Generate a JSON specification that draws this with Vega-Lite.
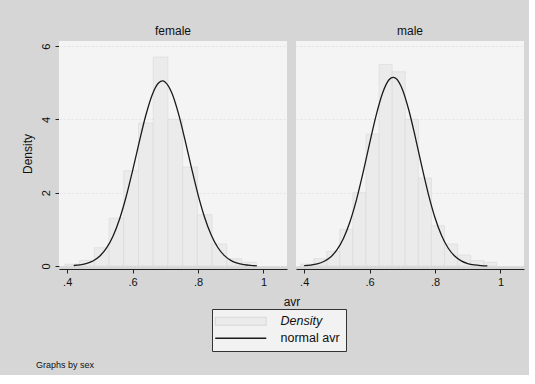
{
  "$schema": "https://vega.github.io/schema/vega-lite/v6.json",
  "background": "#d6d6d6",
  "padding": {"left": 21, "top": 25, "right": 5, "bottom": 5},
  "autosize": {"type": "pad"},
  "title": {
    "text": "Graphs by sex",
    "orient": "bottom",
    "anchor": "start",
    "frame": "bounds",
    "offset": 9,
    "dx": 15,
    "fontSize": 9,
    "fontWeight": "normal",
    "font": "Liberation Sans",
    "color": "#111"
  },
  "data": {
    "values": [
      {"sex": "female", "series": "Density", "lo": 0.393, "hi": 0.438, "dens": 0.05},
      {"sex": "female", "series": "Density", "lo": 0.438, "hi": 0.483, "dens": 0.15},
      {"sex": "female", "series": "Density", "lo": 0.483, "hi": 0.528, "dens": 0.5},
      {"sex": "female", "series": "Density", "lo": 0.528, "hi": 0.573, "dens": 1.3},
      {"sex": "female", "series": "Density", "lo": 0.573, "hi": 0.618, "dens": 2.6},
      {"sex": "female", "series": "Density", "lo": 0.618, "hi": 0.663, "dens": 3.9},
      {"sex": "female", "series": "Density", "lo": 0.663, "hi": 0.708, "dens": 5.7},
      {"sex": "female", "series": "Density", "lo": 0.708, "hi": 0.753, "dens": 4.0},
      {"sex": "female", "series": "Density", "lo": 0.753, "hi": 0.798, "dens": 2.7},
      {"sex": "female", "series": "Density", "lo": 0.798, "hi": 0.843, "dens": 1.4},
      {"sex": "female", "series": "Density", "lo": 0.843, "hi": 0.888, "dens": 0.6},
      {"sex": "female", "series": "Density", "lo": 0.888, "hi": 0.933, "dens": 0.2},
      {"sex": "female", "series": "Density", "lo": 0.933, "hi": 0.978, "dens": 0.1},
      {"sex": "male", "series": "Density", "lo": 0.389, "hi": 0.429, "dens": 0.05},
      {"sex": "male", "series": "Density", "lo": 0.429, "hi": 0.469, "dens": 0.2},
      {"sex": "male", "series": "Density", "lo": 0.469, "hi": 0.509, "dens": 0.4},
      {"sex": "male", "series": "Density", "lo": 0.509, "hi": 0.549, "dens": 1.0},
      {"sex": "male", "series": "Density", "lo": 0.549, "hi": 0.589, "dens": 2.0},
      {"sex": "male", "series": "Density", "lo": 0.589, "hi": 0.629, "dens": 3.6},
      {"sex": "male", "series": "Density", "lo": 0.629, "hi": 0.669, "dens": 5.5},
      {"sex": "male", "series": "Density", "lo": 0.669, "hi": 0.709, "dens": 5.3},
      {"sex": "male", "series": "Density", "lo": 0.709, "hi": 0.749, "dens": 4.0},
      {"sex": "male", "series": "Density", "lo": 0.749, "hi": 0.789, "dens": 2.4},
      {"sex": "male", "series": "Density", "lo": 0.789, "hi": 0.829, "dens": 1.1},
      {"sex": "male", "series": "Density", "lo": 0.829, "hi": 0.869, "dens": 0.6},
      {"sex": "male", "series": "Density", "lo": 0.869, "hi": 0.909, "dens": 0.3},
      {"sex": "male", "series": "Density", "lo": 0.909, "hi": 0.949, "dens": 0.15},
      {"sex": "male", "series": "Density", "lo": 0.949, "hi": 0.989, "dens": 0.1},

      {"sex": "female", "series": "normal avr", "avr": 0.42, "dens": 0.014},
      {"sex": "female", "series": "normal avr", "avr": 0.44, "dens": 0.032},
      {"sex": "female", "series": "normal avr", "avr": 0.46, "dens": 0.070},
      {"sex": "female", "series": "normal avr", "avr": 0.48, "dens": 0.143},
      {"sex": "female", "series": "normal avr", "avr": 0.50, "dens": 0.272},
      {"sex": "female", "series": "normal avr", "avr": 0.52, "dens": 0.485},
      {"sex": "female", "series": "normal avr", "avr": 0.54, "dens": 0.813},
      {"sex": "female", "series": "normal avr", "avr": 0.56, "dens": 1.277},
      {"sex": "female", "series": "normal avr", "avr": 0.58, "dens": 1.882},
      {"sex": "female", "series": "normal avr", "avr": 0.60, "dens": 2.601},
      {"sex": "female", "series": "normal avr", "avr": 0.62, "dens": 3.372},
      {"sex": "female", "series": "normal avr", "avr": 0.64, "dens": 4.100},
      {"sex": "female", "series": "normal avr", "avr": 0.66, "dens": 4.676},
      {"sex": "female", "series": "normal avr", "avr": 0.68, "dens": 5.001},
      {"sex": "female", "series": "normal avr", "avr": 0.691, "dens": 5.05},
      {"sex": "female", "series": "normal avr", "avr": 0.70, "dens": 5.017},
      {"sex": "female", "series": "normal avr", "avr": 0.72, "dens": 4.721},
      {"sex": "female", "series": "normal avr", "avr": 0.74, "dens": 4.166},
      {"sex": "female", "series": "normal avr", "avr": 0.76, "dens": 3.449},
      {"sex": "female", "series": "normal avr", "avr": 0.78, "dens": 2.678},
      {"sex": "female", "series": "normal avr", "avr": 0.80, "dens": 1.949},
      {"sex": "female", "series": "normal avr", "avr": 0.82, "dens": 1.331},
      {"sex": "female", "series": "normal avr", "avr": 0.84, "dens": 0.853},
      {"sex": "female", "series": "normal avr", "avr": 0.86, "dens": 0.512},
      {"sex": "female", "series": "normal avr", "avr": 0.88, "dens": 0.289},
      {"sex": "female", "series": "normal avr", "avr": 0.90, "dens": 0.153},
      {"sex": "female", "series": "normal avr", "avr": 0.92, "dens": 0.076},
      {"sex": "female", "series": "normal avr", "avr": 0.94, "dens": 0.035},
      {"sex": "female", "series": "normal avr", "avr": 0.96, "dens": 0.015},
      {"sex": "female", "series": "normal avr", "avr": 0.98, "dens": 0.006},

      {"sex": "male", "series": "normal avr", "avr": 0.40, "dens": 0.011},
      {"sex": "male", "series": "normal avr", "avr": 0.42, "dens": 0.026},
      {"sex": "male", "series": "normal avr", "avr": 0.44, "dens": 0.058},
      {"sex": "male", "series": "normal avr", "avr": 0.46, "dens": 0.122},
      {"sex": "male", "series": "normal avr", "avr": 0.48, "dens": 0.239},
      {"sex": "male", "series": "normal avr", "avr": 0.50, "dens": 0.439},
      {"sex": "male", "series": "normal avr", "avr": 0.52, "dens": 0.752},
      {"sex": "male", "series": "normal avr", "avr": 0.54, "dens": 1.208},
      {"sex": "male", "series": "normal avr", "avr": 0.56, "dens": 1.812},
      {"sex": "male", "series": "normal avr", "avr": 0.58, "dens": 2.546},
      {"sex": "male", "series": "normal avr", "avr": 0.60, "dens": 3.345},
      {"sex": "male", "series": "normal avr", "avr": 0.62, "dens": 4.112},
      {"sex": "male", "series": "normal avr", "avr": 0.64, "dens": 4.729},
      {"sex": "male", "series": "normal avr", "avr": 0.66, "dens": 5.089},
      {"sex": "male", "series": "normal avr", "avr": 0.672, "dens": 5.15},
      {"sex": "male", "series": "normal avr", "avr": 0.68, "dens": 5.123},
      {"sex": "male", "series": "normal avr", "avr": 0.70, "dens": 4.825},
      {"sex": "male", "series": "normal avr", "avr": 0.72, "dens": 4.251},
      {"sex": "male", "series": "normal avr", "avr": 0.74, "dens": 3.505},
      {"sex": "male", "series": "normal avr", "avr": 0.76, "dens": 2.703},
      {"sex": "male", "series": "normal avr", "avr": 0.78, "dens": 1.950},
      {"sex": "male", "series": "normal avr", "avr": 0.80, "dens": 1.317},
      {"sex": "male", "series": "normal avr", "avr": 0.82, "dens": 0.832},
      {"sex": "male", "series": "normal avr", "avr": 0.84, "dens": 0.491},
      {"sex": "male", "series": "normal avr", "avr": 0.86, "dens": 0.272},
      {"sex": "male", "series": "normal avr", "avr": 0.88, "dens": 0.141},
      {"sex": "male", "series": "normal avr", "avr": 0.90, "dens": 0.068},
      {"sex": "male", "series": "normal avr", "avr": 0.92, "dens": 0.031},
      {"sex": "male", "series": "normal avr", "avr": 0.94, "dens": 0.013},
      {"sex": "male", "series": "normal avr", "avr": 0.96, "dens": 0.005}
    ]
  },
  "facet": {
    "column": {
      "field": "sex",
      "type": "nominal",
      "title": "avr",
      "header": {
        "labelOrient": "top",
        "titleOrient": "bottom",
        "titleFontSize": 12,
        "titleFontWeight": "normal",
        "titleFont": "Liberation Sans",
        "titleColor": "#111",
        "titlePadding": 0,
        "labelFontSize": 12,
        "labelFont": "Liberation Sans",
        "labelColor": "#111",
        "labelPadding": 3
      }
    }
  },
  "spacing": {"column": 9},
  "spec": {
    "width": 228,
    "height": 225,
    "layer": [
      {
        "transform": [{"filter": "datum.series === 'Density'"}],
        "mark": {"type": "bar", "fill": "#ebebeb", "stroke": "#d8d8d8", "strokeWidth": 0.6},
        "encoding": {
          "x": {
            "field": "lo",
            "type": "quantitative",
            "scale": {"domain": [0.375, 1.072], "nice": false, "zero": false},
            "axis": {
              "title": null,
              "values": [0.4, 0.6, 0.8, 1],
              "labelExpr": "datum.value >= 1 ? '1' : '.' + format(datum.value * 10, 'd')",
              "grid": false,
              "domainColor": "#222",
              "tickColor": "#222",
              "tickSize": 4,
              "labelFontSize": 11,
              "labelColor": "#111",
              "labelPadding": 3
            }
          },
          "x2": {"field": "hi"},
          "y": {
            "field": "dens",
            "type": "quantitative",
            "scale": {"domain": [0, 6.14], "nice": false},
            "axis": {
              "title": "Density",
              "values": [0, 2, 4, 6],
              "labelAngle": 270,
              "labelAlign": "center",
              "labelBaseline": "bottom",
              "grid": true,
              "gridColor": "#e4e4e4",
              "gridDash": [2, 2],
              "domainColor": "#222",
              "tickColor": "#222",
              "tickSize": 4,
              "labelFontSize": 11,
              "labelColor": "#111",
              "labelPadding": 4,
              "titleFontSize": 12,
              "titleFontWeight": "normal",
              "titleColor": "#111",
              "titlePadding": 6
            }
          },
          "y2": {"datum": 0}
        }
      },
      {
        "transform": [{"filter": "datum.series === 'normal avr'"}],
        "mark": {"type": "line", "strokeWidth": 1.3, "interpolate": "monotone"},
        "encoding": {
          "x": {"field": "avr", "type": "quantitative"},
          "y": {"field": "dens", "type": "quantitative"},
          "color": {
            "field": "series",
            "type": "nominal",
            "scale": {"domain": ["Density", "normal avr"], "range": ["#cfcfcf", "#1a1a1a"]},
            "legend": {
              "title": null,
              "orient": "none",
              "legendX": 153,
              "legendY": 268,
              "direction": "vertical",
              "symbolType": "M-1,0H4.67",
              "symbolSize": 324,
              "symbolStrokeWidth": 1.3,
              "labelFontSize": 12.5,
              "labelFont": "Liberation Sans",
              "labelColor": "#111",
              "labelOffset": 50,
              "rowPadding": 4,
              "padding": 6,
              "strokeColor": "#333",
              "fillColor": "#f2f2f2",
              "encode": {
                "symbols": {
                  "update": {
                    "shape": {"signal": "datum.label === 'Density' ? 'M-1,-0.45H4.67V0.45H-1Z' : 'M-1,0H4.67'"},
                    "fill": {"signal": "datum.label === 'Density' ? '#ebebeb' : 'transparent'"},
                    "strokeWidth": {"signal": "datum.label === 'Density' ? 0.7 : 1.3"}
                  }
                },
                "labels": {"update": {"fontStyle": {"signal": "datum.label === 'Density' ? 'italic' : 'normal'"}}}
              }
            }
          }
        }
      }
    ]
  },
  "config": {
    "font": "Liberation Sans",
    "view": {"fill": "#f4f4f4", "stroke": null}
  }
}
